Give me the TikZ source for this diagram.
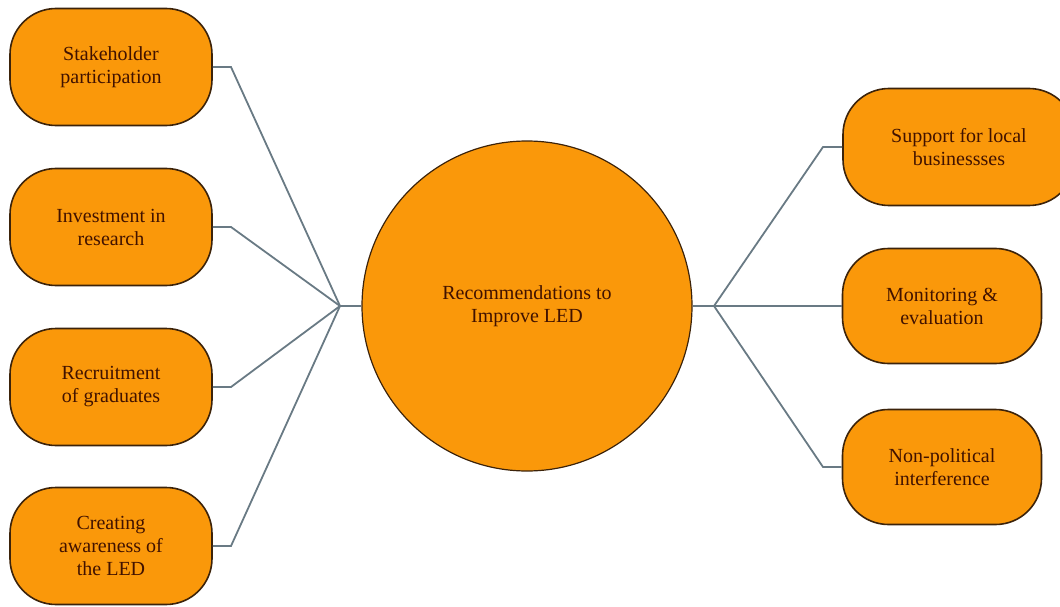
\documentclass[tikz,border=0pt]{standalone}
\usepackage{fontspec}
\setmainfont{Liberation Serif}
\usepackage{tikz}
\usetikzlibrary{shapes, positioning, calc}
\definecolor{ledorange}{RGB}{250, 152, 10}
\definecolor{edgebrown}{RGB}{60, 35, 10}
\definecolor{textbrown}{RGB}{65, 18, 0}
\definecolor{linkgrey}{RGB}{105, 122, 132}

\begin{document}
\begin{tikzpicture}[x=1pt, y=-1pt,
    recbox/.style={draw=edgebrown, fill=ledorange, line width=1.6pt,
        rounded corners=46pt, minimum height=117pt, align=center,
        text=textbrown, font=\fontsize{20}{23}\selectfont},
    hubnode/.style={circle, draw=edgebrown, fill=ledorange, line width=1.2pt,
        minimum size=330pt, align=center, text=textbrown,
        font=\fontsize{20}{23}\selectfont},
    link/.style={draw=linkgrey, line width=1.8pt}]
  \useasboundingbox (0,0) rectangle (1060,607);

  % Centre circle
  \node[hubnode] (hub) at (527,306) {Recommendations to\\Improve LED};

  % Left column
  \node[recbox, minimum width=202pt] (stake) at (111,67)  {Stakeholder\\participation};
  \node[recbox, minimum width=202pt] (invest) at (111,227) {Investment in\\research};
  \node[recbox, minimum width=202pt] (recruit) at (111,387) {Recruitment\\of graduates};
  \node[recbox, minimum width=202pt] (aware) at (111,546) {Creating\\awareness of\\the LED};

  % Right column
  \node[recbox, minimum width=232pt] (support) at (959,147) {Support for local\\businessses};
  \node[recbox, minimum width=199pt, minimum height=115pt] (monitor) at (942,306) {Monitoring \&\\evaluation};
  \node[recbox, minimum width=199pt, minimum height=115pt] (nonpol) at (942,467) {Non-political\\interference};

  % Junctions and bends
  \coordinate (ljoin) at (340,306);
  \coordinate (rjoin) at (714,306);
  \coordinate (lbend) at (231,0);
  \coordinate (rbend) at (823,0);

  % Left connectors
  \draw[link] (ljoin) -- (hub.west);
  \foreach \b in {stake, invest, recruit, aware}
    \draw[link] (\b.east) -- (\b.east -| lbend) -- (ljoin);

  % Right connectors
  \draw[link] (hub.east) -- (rjoin);
  \foreach \b in {support, monitor, nonpol}
    \draw[link] (rjoin) -- (\b.west -| rbend) -- (\b.west);
\end{tikzpicture}
\end{document}
